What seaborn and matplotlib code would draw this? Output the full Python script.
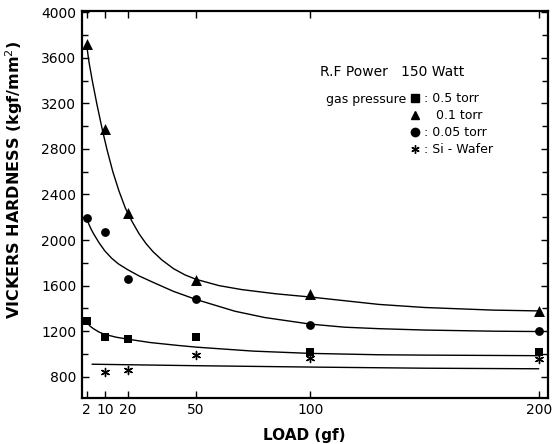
import numpy as np
import pandas as pd
import matplotlib
matplotlib.use("Agg")
import matplotlib.pyplot as plt
import seaborn as sns
from matplotlib.lines import Line2D
from matplotlib.ticker import MultipleLocator

load_gf = [2, 10, 20, 50, 100, 200]
hv_05torr = [1290, 1147, 1133, 1153, 1018, 1018]
hv_01torr = [3720, 2975, 2235, 1650, 1524, 1375]
hv_005torr = [2190, 2070, 1660, 1482, 1252, 1200]
si_load = [10, 20, 50, 100, 200]
hv_si = [843, 860, 987, 963, 955]

# ---- fitted curves, read point-by-point from the reference ----
fit_01_x = [2, 3, 4.5, 6.5, 9, 11, 13.5, 16.2, 19, 22, 25, 28, 31, 35, 40, 45, 50,
            60, 70, 85, 100, 130, 150, 180, 200]
fit_01_y = [3720, 3570, 3400, 3195, 2960, 2790, 2600, 2430, 2280, 2160, 2055, 1970, 1900,
            1825, 1750, 1695, 1655, 1600, 1565, 1528, 1500, 1435, 1408, 1385, 1378]

fit_005_x = [2, 3, 4, 5, 7.5, 10, 13, 16, 20, 25, 31, 40, 50, 67, 80, 100, 115, 130, 150, 180, 200]
fit_005_y = [2190, 2140, 2095, 2058, 1975, 1905, 1840, 1790, 1740, 1685, 1630, 1550, 1478,
             1375, 1320, 1262, 1235, 1222, 1210, 1200, 1197]

fit_05_x = [2, 3.5, 5, 7.5, 10, 15, 20, 30, 42, 50, 75, 100, 130, 150, 200]
fit_05_y = [1282, 1245, 1222, 1192, 1172, 1147, 1130, 1100, 1075, 1060, 1025, 1005, 993, 990, 985]

fit_si_x = [4.4, 50, 100, 150, 200]
fit_si_y = [910, 897, 885, 875, 870]

x_ticks = [2, 10, 20, 50, 100, 200]
y_ticks = [800, 1200, 1600, 2000, 2400, 2800, 3200, 3600, 4000]

legend_labels = [": 0.5 torr", "   0.1 torr", ": 0.05 torr", ": Si - Wafer"]

# ---- style ----
sns.set_style("ticks")
plt.rcParams['font.family'] = ['DejaVu Sans']
plt.rcParams['text.color'] = 'black'
plt.rcParams['axes.labelcolor'] = 'black'
plt.rcParams['xtick.color'] = 'black'
plt.rcParams['ytick.color'] = 'black'

fig = plt.figure(figsize=(5.54, 4.44), dpi=100)
ax = fig.add_axes([0.148, 0.104, 0.841, 0.871])

k = 'black'
lw_curve = 1.0
for fx, fy in [(fit_01_x, fit_01_y), (fit_005_x, fit_005_y),
               (fit_05_x, fit_05_y), (fit_si_x, fit_si_y)]:
    sns.lineplot(x=fx, y=fy, ax=ax, color=k, lw=lw_curve, estimator=None, sort=False)

sns.scatterplot(x=load_gf, y=hv_05torr, ax=ax, marker='s', s=30, color=k, linewidth=0, zorder=5)
sns.scatterplot(x=load_gf, y=hv_01torr, ax=ax, marker='^', s=62, color=k, linewidth=0, zorder=5)
sns.scatterplot(x=load_gf, y=hv_005torr, ax=ax, marker='o', s=40, color=k, linewidth=0, zorder=5)
sns.scatterplot(x=si_load, y=hv_si, ax=ax, marker=(6, 2, 0), s=34, color=k, edgecolor=k,
                linewidth=1.0, zorder=5)

ax.set_xlim(0, 204)
ax.set_ylim(615, 4010)

ax.set_xticks(x_ticks)
ax.set_xticklabels([str(t) for t in x_ticks])
ax.set_yticks(y_ticks)
ax.set_yticklabels([str(t) for t in y_ticks])
ax.yaxis.set_minor_locator(MultipleLocator(200))

ax.tick_params(axis='both', which='major', direction='in', length=5, width=1.0,
               labelsize=10, top=True, right=True, colors=k, labelcolor=k, pad=4)
ax.tick_params(axis='y', which='minor', direction='in', length=4, width=1.0, right=True, left=True)

for sp in ax.spines.values():
    sp.set_visible(True)
    sp.set_linewidth(1.6)
    sp.set_color(k)

ax.set_xlabel("LOAD (gf)", fontsize=11, fontweight='bold', color=k)
ax.set_ylabel("VICKERS HARDNESS (kgf/mm$^2$)", fontsize=11.5, fontweight='bold', color=k)
ax.xaxis.set_label_coords(0.476, -0.078)
ax.yaxis.set_label_coords(-0.122, 0.563)

# annotation block
fig.text(320 / 554, 1 - 72 / 444, "R.F Power   150 Watt", fontsize=10, ha='left', va='center', color=k)
fig.text(406 / 554, 1 - 100 / 444, "gas pressure", fontsize=9, ha='right', va='center', color=k)

handles = [
    Line2D([], [], ls='none', marker='s', ms=5.3, color=k),
    Line2D([], [], ls='none', marker='^', ms=6, color=k),
    Line2D([], [], ls='none', marker='o', ms=6, color=k),
    Line2D([], [], ls='none', marker=(6, 2, 0), ms=6, color=k, mew=1.0),
]
leg = fig.legend(handles, legend_labels, loc='upper left',
                 bbox_to_anchor=(409 / 554, 1 - 92 / 444), frameon=False,
                 fontsize=9, handlelength=1.0, handletextpad=0.2,
                 labelspacing=0.32, borderpad=0, borderaxespad=0)
for t in leg.get_texts():
    t.set_color(k)

fig.savefig("out.png", dpi=100)
